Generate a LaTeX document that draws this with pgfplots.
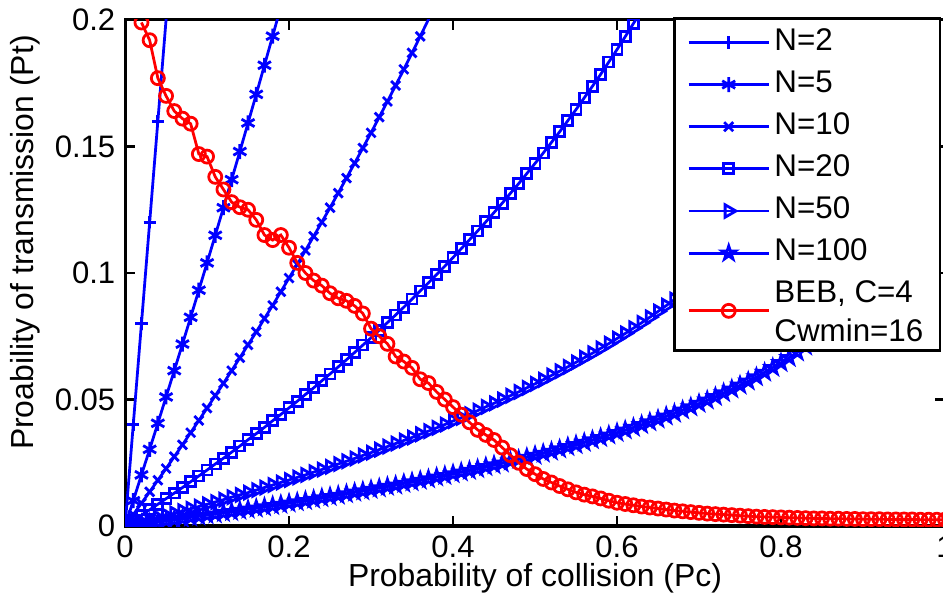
\documentclass[border=0pt]{standalone}
\usepackage{fontspec}
\setmainfont{Liberation Sans}
\usepackage{pgfplots}
\pgfplotsset{compat=1.18}
\usetikzlibrary{plotmarks}
\pgfdeclareplotmark{pentagram}{%
 \pgfpathmoveto{\pgfpointpolar{90}{\pgfplotmarksize}}%
 \pgfpathlineto{\pgfpointpolar{126}{0.382*\pgfplotmarksize}}%
 \pgfpathlineto{\pgfpointpolar{162}{\pgfplotmarksize}}%
 \pgfpathlineto{\pgfpointpolar{198}{0.382*\pgfplotmarksize}}%
 \pgfpathlineto{\pgfpointpolar{234}{\pgfplotmarksize}}%
 \pgfpathlineto{\pgfpointpolar{270}{0.382*\pgfplotmarksize}}%
 \pgfpathlineto{\pgfpointpolar{306}{\pgfplotmarksize}}%
 \pgfpathlineto{\pgfpointpolar{342}{0.382*\pgfplotmarksize}}%
 \pgfpathlineto{\pgfpointpolar{18}{\pgfplotmarksize}}%
 \pgfpathlineto{\pgfpointpolar{54}{0.382*\pgfplotmarksize}}%
 \pgfpathclose
 \pgfusepathqstroke
}
\newcommand{\lblfont}{\fontsize{11.5}{13.5}\selectfont}
\newcommand{\tckfont}{\fontsize{11.2}{13}\selectfont}
\newcommand{\legfont}{\fontsize{11.3}{13.5}\selectfont}
\begin{document}
\begin{tikzpicture}
\begin{axis}[
 scale only axis, width=295.7pt, height=182.5pt,
 xmin=0, xmax=1, ymin=0, ymax=0.2,
 xtick={0,0.2,0.4,0.6,0.8,1}, xticklabels={0,0.2,0.4,0.6,0.8,1},
 ytick={0,0.05,0.1,0.15,0.2}, yticklabels={0,0.05,0.1,0.15,0.2},
 tick align=inside, major tick length=3.5pt,
 every tick/.style={black, line width=1pt},
 axis line style={black, line width=1.1pt},
 ticklabel style={font=\tckfont},
 label style={font=\lblfont},
 xlabel={Probability of collision (Pc)},
 ylabel={Proability of transmission (Pt)},
 xlabel style={at={(axis description cs:0.5,-0.103)}, anchor=center},
 ylabel style={at={(axis description cs:-0.122,0.56)}, anchor=center},
 clip marker paths=true,
 legend image code/.code={\draw (0pt,0pt) -- (29pt,0pt); \draw[mark indices={0,1}] plot coordinates {(14.5pt,0pt)};},
 legend style={at={(rel axis cs:1,1)}, anchor=north east, xshift=-1.3pt, yshift=1.1pt,
   draw=black, line width=1pt, fill=white, inner xsep=4.5pt, inner ysep=3.3pt,
   row sep=4.4pt, font=\legfont,
   nodes={inner xsep=1.5pt, inner ysep=0pt, text height=8.2pt, text depth=2.6pt},
   cells={anchor=west, align=left}},
]
\coordinate (sw) at (rel axis cs:0,0);
\coordinate (ne) at (rel axis cs:1,1);

\addplot[blue, line width=1pt, mark=+, mark size=2.2pt, mark indices={1,...,5}] coordinates {
(0,0) (0.01,0.04) (0.02,0.08) (0.03,0.12) (0.04,0.16) (0.05,0.2) (0.06,0.24)};
\addlegendentry{N=2}

\addplot[blue, line width=1pt, mark=asterisk, mark size=2.7pt, mark indices={1,...,19}] coordinates {
(0,0) (0.01,0.0100) (0.02,0.0202) (0.03,0.0303) (0.04,0.0406) (0.05,0.0510) (0.06,0.0614) (0.07,0.0719) (0.08,0.0825) (0.09,0.0932) (0.10,0.1040) (0.11,0.1149) (0.12,0.1258) (0.13,0.1369) (0.14,0.1480) (0.15,0.1593) (0.16,0.1706) (0.17,0.1821) (0.18,0.1936) (0.19,0.2053)};
\addlegendentry{N=5}

\addplot[blue, line width=1pt, mark=x, mark size=2.3pt, mark indices={1,...,37}] coordinates {
(0,0) (0.01,0.0045) (0.02,0.0090) (0.03,0.0135) (0.04,0.0181) (0.05,0.0227) (0.06,0.0274) (0.07,0.0321) (0.08,0.0369) (0.09,0.0417) (0.10,0.0466) (0.11,0.0515) (0.12,0.0564) (0.13,0.0614) (0.14,0.0665) (0.15,0.0716) (0.16,0.0767) (0.17,0.0820) (0.18,0.0872) (0.19,0.0926) (0.20,0.0980) (0.21,0.1034) (0.22,0.1089) (0.23,0.1145) (0.24,0.1201) (0.25,0.1258) (0.26,0.1316) (0.27,0.1375) (0.28,0.1434) (0.29,0.1494) (0.30,0.1554) (0.31,0.1616) (0.32,0.1678) (0.33,0.1741) (0.34,0.1805) (0.35,0.1870) (0.36,0.1935) (0.37,0.2002) (0.38,0.2069)};
\addlegendentry{N=10}

\addplot[blue, line width=1pt, mark=square, mark size=1.8pt, mark indices={1,...,63}] coordinates {
(0,0) (0.01,0.0021) (0.02,0.0043) (0.03,0.0064) (0.04,0.0086) (0.05,0.0108) (0.06,0.0130) (0.07,0.0152) (0.08,0.0175) (0.09,0.0198) (0.10,0.0221) (0.11,0.0245) (0.12,0.0268) (0.13,0.0292) (0.14,0.0316) (0.15,0.0341) (0.16,0.0365) (0.17,0.0390) (0.18,0.0416) (0.19,0.0441) (0.20,0.0467) (0.21,0.0493) (0.22,0.0520) (0.23,0.0546) (0.24,0.0574) (0.25,0.0601) (0.26,0.0629) (0.27,0.0657) (0.28,0.0686) (0.29,0.0715) (0.30,0.0744) (0.31,0.0774) (0.32,0.0804) (0.33,0.0834) (0.34,0.0865) (0.35,0.0897) (0.36,0.0929) (0.37,0.0961) (0.38,0.0994) (0.39,0.1027) (0.40,0.1061) (0.41,0.1096) (0.42,0.1131) (0.43,0.1166) (0.44,0.1202) (0.45,0.1239) (0.46,0.1276) (0.47,0.1315) (0.48,0.1353) (0.49,0.1393) (0.50,0.1433) (0.51,0.1474) (0.52,0.1516) (0.53,0.1558) (0.54,0.1602) (0.55,0.1646) (0.56,0.1692) (0.57,0.1738) (0.58,0.1785) (0.59,0.1834) (0.60,0.1883) (0.61,0.1934) (0.62,0.1986) (0.63,0.2039)};
\addlegendentry{N=20}

\addplot[blue, line width=1pt, mark=triangle, mark size=2.6pt, mark options={rotate=-90}] coordinates {
(0,0) (0.01,0.0008) (0.02,0.0016) (0.03,0.0025) (0.04,0.0033) (0.05,0.0042) (0.06,0.0050) (0.07,0.0059) (0.08,0.0068) (0.09,0.0077) (0.10,0.0086) (0.11,0.0095) (0.12,0.0104) (0.13,0.0114) (0.14,0.0123) (0.15,0.0132) (0.16,0.0142) (0.17,0.0152) (0.18,0.0162) (0.19,0.0172) (0.20,0.0182) (0.21,0.0192) (0.22,0.0202) (0.23,0.0213) (0.24,0.0223) (0.25,0.0234) (0.26,0.0245) (0.27,0.0256) (0.28,0.0267) (0.29,0.0279) (0.30,0.0290) (0.31,0.0302) (0.32,0.0314) (0.33,0.0326) (0.34,0.0338) (0.35,0.0350) (0.36,0.0363) (0.37,0.0375) (0.38,0.0388) (0.39,0.0401) (0.40,0.0415) (0.41,0.0428) (0.42,0.0442) (0.43,0.0456) (0.44,0.0471) (0.45,0.0485) (0.46,0.0500) (0.47,0.0515) (0.48,0.0530) (0.49,0.0546) (0.50,0.0562) (0.51,0.0578) (0.52,0.0595) (0.53,0.0612) (0.54,0.0629) (0.55,0.0647) (0.56,0.0665) (0.57,0.0683) (0.58,0.0702) (0.59,0.0721) (0.60,0.0741) (0.61,0.0761) (0.62,0.0782) (0.63,0.0803) (0.64,0.0825) (0.65,0.0848) (0.66,0.0871) (0.67,0.0895) (0.68,0.0919) (0.69,0.0945) (0.70,0.0971) (0.71,0.0998) (0.72,0.1026) (0.73,0.1055) (0.74,0.1085) (0.75,0.1116) (0.76,0.1148) (0.77,0.1182) (0.78,0.1217) (0.79,0.1254) (0.80,0.1292)};
\addlegendentry{N=50}

\addplot[blue, line width=1pt, mark=pentagram, mark size=2.6pt] coordinates {
(0,0) (0.01,0.0004) (0.02,0.0008) (0.03,0.0012) (0.04,0.0016) (0.05,0.0021) (0.06,0.0025) (0.07,0.0029) (0.08,0.0034) (0.09,0.0038) (0.10,0.0043) (0.11,0.0047) (0.12,0.0052) (0.13,0.0056) (0.14,0.0061) (0.15,0.0066) (0.16,0.0070) (0.17,0.0075) (0.18,0.0080) (0.19,0.0085) (0.20,0.0090) (0.21,0.0095) (0.22,0.0100) (0.23,0.0105) (0.24,0.0111) (0.25,0.0116) (0.26,0.0121) (0.27,0.0127) (0.28,0.0133) (0.29,0.0138) (0.30,0.0144) (0.31,0.0150) (0.32,0.0156) (0.33,0.0161) (0.34,0.0168) (0.35,0.0174) (0.36,0.0180) (0.37,0.0186) (0.38,0.0193) (0.39,0.0199) (0.40,0.0206) (0.41,0.0213) (0.42,0.0219) (0.43,0.0226) (0.44,0.0234) (0.45,0.0241) (0.46,0.0248) (0.47,0.0256) (0.48,0.0263) (0.49,0.0271) (0.50,0.0279) (0.51,0.0287) (0.52,0.0295) (0.53,0.0304) (0.54,0.0313) (0.55,0.0321) (0.56,0.0330) (0.57,0.0340) (0.58,0.0349) (0.59,0.0359) (0.60,0.0369) (0.61,0.0379) (0.62,0.0389) (0.63,0.0400) (0.64,0.0411) (0.65,0.0422) (0.66,0.0434) (0.67,0.0445) (0.68,0.0458) (0.69,0.0470) (0.70,0.0484) (0.71,0.0497) (0.72,0.0511) (0.73,0.0526) (0.74,0.0541) (0.75,0.0556) (0.76,0.0572) (0.77,0.0589) (0.78,0.0607) (0.79,0.0626) (0.80,0.0645) (0.81,0.0665) (0.82,0.0687) (0.83,0.0710) (0.84,0.0734) (0.85,0.0759) (0.86,0.0787) (0.87,0.0816) (0.88,0.0848) (0.89,0.0882) (0.90,0.0920)};
\addlegendentry{N=100}

\addplot[red, line width=1pt, mark=o, mark size=2.35pt] coordinates {
(0.02,0.199) (0.03,0.192) (0.04,0.177) (0.05,0.170) (0.06,0.164) (0.07,0.161) (0.08,0.159) (0.09,0.147) (0.10,0.146) (0.11,0.138) (0.12,0.133) (0.13,0.128) (0.14,0.126) (0.15,0.125) (0.16,0.121) (0.17,0.115) (0.18,0.113) (0.19,0.115) (0.20,0.110) (0.21,0.104) (0.22,0.100) (0.23,0.097) (0.24,0.095) (0.25,0.092) (0.26,0.090) (0.27,0.089) (0.28,0.087) (0.29,0.084) (0.30,0.078) (0.31,0.075) (0.32,0.072) (0.33,0.067) (0.34,0.065) (0.35,0.0625) (0.36,0.058) (0.37,0.0565) (0.38,0.053) (0.39,0.050) (0.40,0.047) (0.41,0.044) (0.42,0.041) (0.43,0.038) (0.44,0.036) (0.45,0.034) (0.46,0.031) (0.47,0.028) (0.48,0.025) (0.49,0.0225) (0.50,0.0205) (0.51,0.0186) (0.52,0.0172) (0.53,0.0158) (0.54,0.0145) (0.55,0.0133) (0.56,0.0124) (0.57,0.0117) (0.58,0.0109) (0.59,0.0100) (0.60,0.0092) (0.61,0.0087) (0.62,0.0082) (0.63,0.0077) (0.64,0.0073) (0.65,0.0069) (0.66,0.0065) (0.67,0.0061) (0.68,0.0058) (0.69,0.0055) (0.70,0.0052) (0.71,0.0049) (0.72,0.0047) (0.73,0.0045) (0.74,0.0043) (0.75,0.0041) (0.76,0.0039) (0.77,0.0037) (0.78,0.0036) (0.79,0.0035) (0.80,0.0034) (0.81,0.0033) (0.82,0.0032) (0.83,0.0031) (0.84,0.0030) (0.85,0.0030) (0.86,0.0029) (0.87,0.0029) (0.88,0.0028) (0.89,0.0028) (0.90,0.0027) (0.91,0.0027) (0.92,0.0027) (0.93,0.0026) (0.94,0.0026) (0.95,0.0026) (0.96,0.0026) (0.97,0.0025) (0.98,0.0025) (0.99,0.0025) (1.00,0.0025)};
\addlegendentry[text height=, text depth=]{BEB, C=4\\[0.5pt]Cwmin=16}
\end{axis}
\pgfresetboundingbox
\path ([shift={(-45.1pt,-27.0pt)}]sw) rectangle ([shift={(-0.72pt,7.2pt)}]ne);
\end{tikzpicture}
\end{document}
